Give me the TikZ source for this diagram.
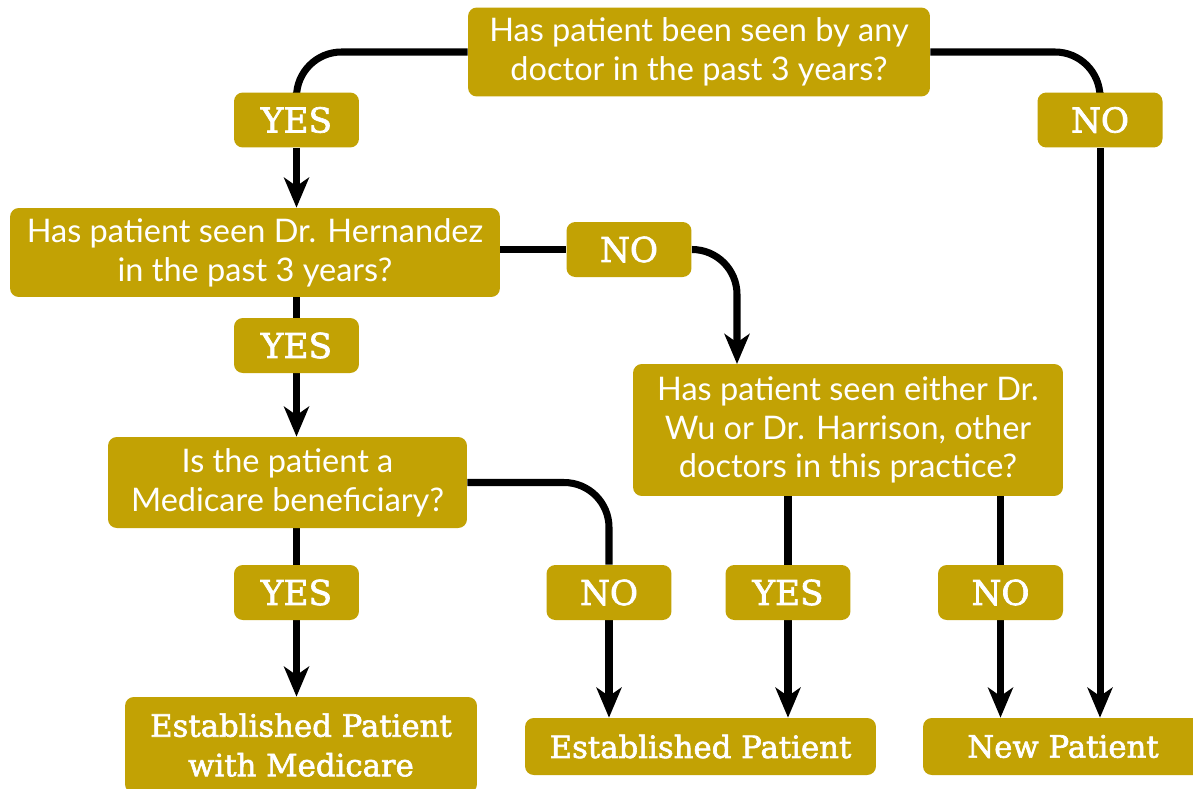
\documentclass[tikz,border=0pt]{standalone}
\usepackage{fontspec}
\setmainfont{Lato}
\newfontfamily\slabfont[BoldFont={DejaVu Serif}, BoldFeatures={FakeBold=2}]{DejaVu Serif}
\usetikzlibrary{arrows.meta,backgrounds}
\definecolor{gold}{RGB}{194,162,4}

\begin{document}
\begin{tikzpicture}[
    x=0.02cm, y=-0.02cm,
    qbox/.style={fill=gold, rounded corners=5pt, text=white, align=center,
        inner sep=0pt, font=\fontsize{18.5}{22}\selectfont},
    ansbox/.style={fill=gold, rounded corners=5pt, text=white, inner sep=0pt,
        minimum width=2.5cm, minimum height=1.1cm,
        font=\slabfont\bfseries\fontsize{19.5}{22}\selectfont},
    endbox/.style={fill=gold, rounded corners=5pt, text=white, align=center,
        inner sep=0pt, font=\slabfont\bfseries\fontsize{17.5}{22.5}\selectfont},
    link/.style={line width=4pt},
    arr/.style={line width=4pt, -{Stealth[length=0.6cm, width=0.5cm, inset=0.17cm]}},
    curved/.style={rounded corners=0.9cm}
    ]
    \useasboundingbox (0,0) rectangle (1193,788);

    % questions
    \node [qbox, minimum width=9.24cm, minimum height=1.78cm] (qany) at (699,52)
        {Has patient been seen by any\\doctor in the past 3 years?};
    \node [qbox, minimum width=9.8cm, minimum height=1.78cm] (qhern) at (255,252.5)
        {Has patient seen Dr. Hernandez\\in the past 3 years?};
    \node [qbox, minimum width=7.18cm, minimum height=1.82cm] (qmed) at (287.5,482.5)
        {Is the patient a\\Medicare beneficiary?};
    \node [qbox, minimum width=8.6cm, minimum height=2.64cm] (qother) at (848,430)
        {Has patient seen either Dr.\\Wu or Dr. Harrison, other\\doctors in this practice?};

    % answers
    \node [ansbox] (yesany) at (296.5,120) {YES};
    \node [ansbox] (noany) at (1100,120) {NO};
    \node [ansbox] (nohern) at (629,249.5) {NO};
    \node [ansbox] (yeshern) at (296.5,345.5) {YES};
    \node [ansbox] (yesmed) at (296.5,592.5) {YES};
    \node [ansbox] (nomed) at (609,592.5) {NO};
    \node [ansbox] (yesother) at (788,592.5) {YES};
    \node [ansbox] (noother) at (1000.5,592.5) {NO};

    % results
    \node [endbox, minimum width=7.04cm, minimum height=1.92cm] (estmed) at (301,745)
        {Established Patient\\with Medicare};
    \node [endbox, minimum width=7.02cm, minimum height=1.14cm] (est) at (700.5,746.5)
        {Established Patient};
    \node [endbox, minimum width=5.6cm, minimum height=1.14cm] (new) at (1063,746.5)
        {New Patient};

    \coordinate (otherin) at (737,364);

    \begin{scope}[on background layer]
        \draw [link, curved] (qany.west) -| (yesany.north);
        \draw [link, curved] (qany.east) -| (noany.north);
        \draw [arr] (noany.south) -- (noany.south |- new.north);
        \draw [arr] (yesany.south) -- (yesany.south |- qhern.north);

        \draw [link] (nohern.west -| qhern.east) -- (nohern.west);
        \draw [arr, curved] (nohern.east) -| (otherin);
        \draw [link] (yeshern.north |- qhern.south) -- (yeshern.north);
        \draw [arr] (yeshern.south) -- (yeshern.south |- qmed.north);

        \draw [link, curved] (qmed.east) -| (nomed.north);
        \draw [link] (yesmed.north |- qmed.south) -- (yesmed.north);
        \draw [arr] (yesmed.south) -- (yesmed.south |- estmed.north);
        \draw [arr] (nomed.south) -- (nomed.south |- est.north);

        \draw [link] (yesother.north |- qother.south) -- (yesother.north);
        \draw [link] (noother.north |- qother.south) -- (noother.north);
        \draw [arr] (yesother.south) -- (yesother.south |- est.north);
        \draw [arr] (noother.south) -- (noother.south |- new.north);
    \end{scope}
\end{tikzpicture}
\end{document}
